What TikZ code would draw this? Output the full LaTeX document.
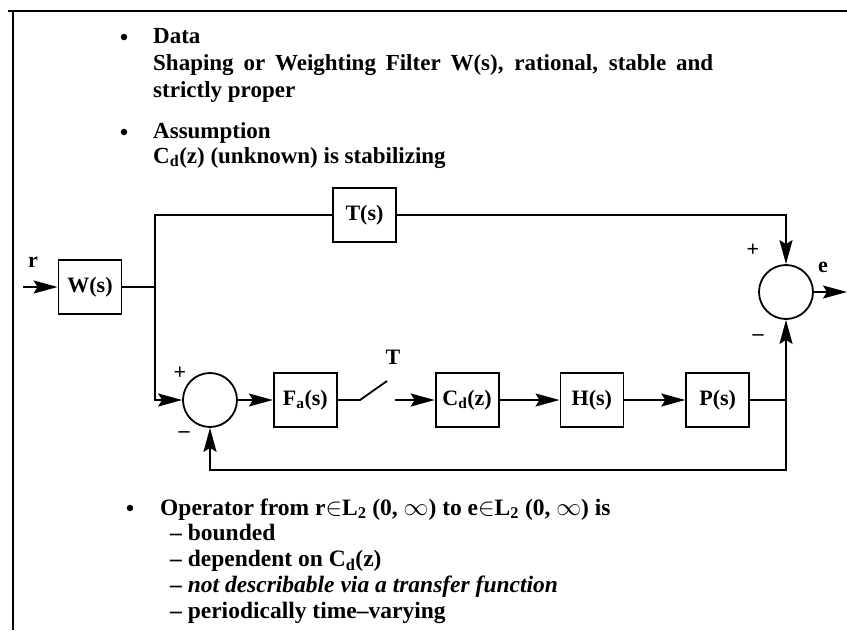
\documentclass[tikz,border=0pt]{standalone}
\usepackage{fontspec}
\setmainfont{Liberation Serif}
\usetikzlibrary{arrows.meta, positioning}

\begin{document}
\begin{tikzpicture}[x=1pt, y=-1pt,
    blk/.style={draw, line width=1.8pt, minimum width=63pt, minimum height=54pt, inner sep=0pt, font=\fontsize{22}{22}\selectfont\bfseries},
    sumc/.style={draw, circle, line width=1.8pt, minimum size=54pt, inner sep=0pt},
    wire/.style={line width=1.8pt},
    arr/.style={wire, -{Stealth[length=24pt, width=13pt, inset=4pt]}},
    lbl/.style={inner sep=0pt, font=\fontsize{22}{22}\selectfont\bfseries},
    txt/.style={anchor=base west, align=left, inner sep=0pt, font=\fontsize{23}{27}\selectfont\bfseries},
    dot/.style={circle, fill, inner sep=0pt, minimum size=6.5pt}]
  \useasboundingbox (0,0) rectangle (847,630);
  \draw[line width=1.2pt] (8,11) -- (847,11);
  \draw[line width=1.2pt] (13,11) -- (13,630);

  \node[dot] (b1) at (124,37) {};
  \node[txt] (data) at (153,97) {Data\\\makebox[560pt][s]{Shaping or Weighting Filter W(s), rational, stable and}\\strictly proper};
  \node[dot] (b2) at (124,132) {};
  \node[txt, font=\fontsize{23}{25}\selectfont\bfseries] (assume) at (153,163) {Assumption\\C\textsubscript{d}(z) (unknown) is stabilizing};

  \node[blk] (w) at (90,287) {W(s)};
  \node[blk] (ts) at (364.5,215) {T(s)};
  \node[sumc] (s1) at (210,400) {};
  \node[blk, right=35pt of s1] (fa) {F\textsubscript{a}(s)};
  \node[blk, right=97pt of fa] (cd) {C\textsubscript{d}(z)};
  \node[blk, right=60pt of cd] (h) {H(s)};
  \node[blk, right=61pt of h] (p) {P(s)};
  \node[sumc] (s2) at (786,292) {};
  \coordinate (rin) at (23,287);
  \coordinate (br) at (155,287);
  \coordinate (sw0) at (360,400);
  \coordinate (sw1) at (387,381);
  \coordinate (sw2) at (395,400);
  \coordinate (jn) at (s2 |- p);
  \coordinate (eout) at (847,292);

  \draw[arr] (rin) -- (w);
  \draw[wire] (w.east) -- (br) |- (ts.west);
  \draw[arr] (ts.east) -| (s2.north);
  \draw[arr] (br) |- (s1.west);
  \draw[arr] (s1) -- (fa);
  \draw[wire] (fa.east) -- (sw0) -- (sw1);
  \draw[arr] (sw2) -- (cd);
  \draw[arr] (cd) -- (h);
  \draw[arr] (h) -- (p);
  \draw[wire] (p.east) -- (jn);
  \draw[arr] (jn) -- (s2.south);
  \draw[arr] (jn) -- ++(0,70) -| (s1.south);
  \draw[arr] (s2.east) -- (eout);

  \node[lbl] (rlbl) at (33,262) {r};
  \node[lbl] (tlbl) at (393,357) {T};
  \node[lbl] (p1) at (180,373) {+};
  \node[lbl] (m1) at (184,435) {--};
  \node[lbl] (p2) at (753,250) {+};
  \node[lbl] (m2) at (758,338) {--};
  \node[lbl] (elbl) at (823,267) {e};

  \node[dot] (b3) at (130,508) {};
  \node[txt, font=\fontsize{23.5}{25.7}\selectfont\bfseries] (oper) at (160,618) {Operator from r$\in$L\textsubscript{2} (0, $\infty$) to e$\in$L\textsubscript{2} (0, $\infty$) is\\
    \hspace*{10pt}-- bounded\\
    \hspace*{10pt}-- dependent on C\textsubscript{d}(z)\\
    \hspace*{10pt}-- \textit{not describable via a transfer function}\\
    \hspace*{10pt}-- periodically time--varying};
\end{tikzpicture}
\end{document}
